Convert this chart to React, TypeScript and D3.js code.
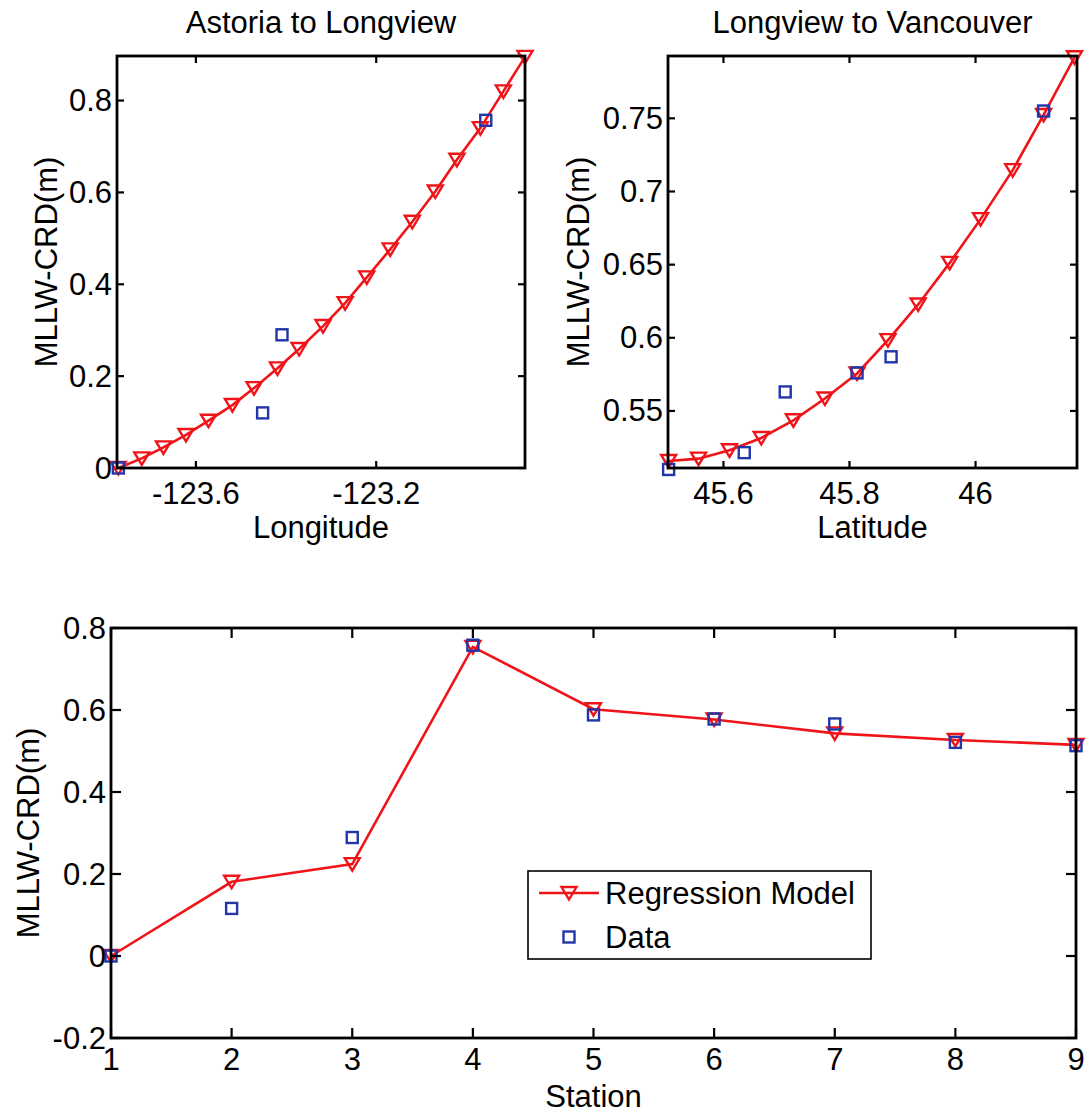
import React from 'react';
import * as d3 from 'd3';

// ---------- Data ----------
// Panel 1: Astoria to Longview (x = longitude)
const lonModelX = [-123.772, -123.72, -123.672, -123.622, -123.572, -123.519, -123.471, -123.419, -123.371, -123.318, -123.269, -123.221, -123.169, -123.12, -123.069, -123.021, -122.969, -122.918, -122.87];
const lonModelY = [0.0, 0.021, 0.045, 0.072, 0.103, 0.137, 0.174, 0.217, 0.259, 0.309, 0.359, 0.415, 0.476, 0.536, 0.602, 0.671, 0.74, 0.82, 0.895];
const lonDataX = [-123.772, -123.452, -123.409, -122.957];
const lonDataY = [0.0, 0.12, 0.29, 0.757];
const lonXDomain = [-123.775, -122.87];
const lonYDomain = [0, 0.897];
const lonXTicks = [-123.6, -123.2];
const lonXTickLabels = ['-123.6', '-123.2'];
const lonYTicks = [0, 0.2, 0.4, 0.6, 0.8];
const lonYTickLabels = ['0', '0.2', '0.4', '0.6', '0.8'];

// Panel 2: Longview to Vancouver (x = latitude)
const latModelX = [45.513, 45.5605, 45.6096, 45.66, 45.711, 45.761, 45.812, 45.861, 45.909, 45.959, 46.008, 46.059, 46.108, 46.157];
const latModelY = [0.5158, 0.5174, 0.5231, 0.5315, 0.5436, 0.5585, 0.5756, 0.5984, 0.6228, 0.6512, 0.6811, 0.7146, 0.7523, 0.7917];
const latDataX = [45.513, 45.633, 45.698, 45.812, 45.866, 46.108];
const latDataY = [0.51, 0.5215, 0.563, 0.576, 0.587, 0.755];
const latXDomain = [45.512, 46.161];
const latYDomain = [0.511, 0.7926];
const latXTicks = [45.6, 45.8, 46];
const latXTickLabels = ['45.6', '45.8', '46'];
const latYTicks = [0.55, 0.6, 0.65, 0.7, 0.75];
const latYTickLabels = ['0.55', '0.6', '0.65', '0.7', '0.75'];

// Panel 3: stations
const stations = [1, 2, 3, 4, 5, 6, 7, 8, 9];
const stationModel = [0.0, 0.181, 0.224, 0.754, 0.602, 0.577, 0.543, 0.527, 0.515];
const stationData = [0.0, 0.116, 0.289, 0.758, 0.588, 0.578, 0.566, 0.521, 0.513];
const stationXDomain = [1, 9];
const stationYDomain = [-0.2, 0.8];
const stationXTickLabels = ['1', '2', '3', '4', '5', '6', '7', '8', '9'];
const stationYTicks = [-0.2, 0, 0.2, 0.4, 0.6, 0.8];
const stationYTickLabels = ['-0.2', '0', '0.2', '0.4', '0.6', '0.8'];

const legendLabels = ['Regression Model', 'Data'];

// ---------- Styles ----------
const FONT = '"Liberation Sans", Arial, Helvetica, sans-serif';
const FS = 31;
const RED = '#f01419';
const BLUE = '#2236a8';

type PanelProps = {
  box: { left: number; right: number; top: number; bottom: number };
  xDomain: number[];
  yDomain: number[];
  xTicks: number[];
  xTickLabels: string[];
  yTicks: number[];
  yTickLabels: string[];
  modelX: number[];
  modelY: number[];
  dataX: number[];
  dataY: number[];
  title?: string;
  xLabel: string;
  yLabel: string;
  yLabelX: number;
  tickLen: number;
  tickBaseline: number;
  labelBaseline: number;
  legend?: boolean;
};

const triPath = 'M-7.5,-6 L7.5,-6 L0,6.5 Z';

function Panel(p: PanelProps) {
  const { box } = p;
  const x = d3.scaleLinear().domain(p.xDomain).range([box.left, box.right]);
  const y = d3.scaleLinear().domain(p.yDomain).range([box.bottom, box.top]);
  const line = d3
    .line<number>()
    .x((_, i) => x(p.modelX[i]))
    .y((d) => y(d));
  const cx = (box.left + box.right) / 2;
  const cy = (box.top + box.bottom) / 2;
  const tl = p.tickLen;

  return (
    <g>
      {/* model line and markers */}
      <path d={line(p.modelY) || ''} fill="none" stroke={RED} strokeWidth={2.6} />
      {p.modelY.map((v, i) => (
        <path
          key={'m' + i}
          d={triPath}
          transform={`translate(${x(p.modelX[i])},${y(v)})`}
          fill="none"
          stroke={RED}
          strokeWidth={2.4}
        />
      ))}
      {/* data markers */}
      {p.dataY.map((v, i) => (
        <rect
          key={'d' + i}
          x={x(p.dataX[i]) - 5.5}
          y={y(v) - 5.5}
          width={11}
          height={11}
          fill="none"
          stroke={BLUE}
          strokeWidth={2.4}
        />
      ))}
      {/* ticks */}
      {p.xTicks.map((t, i) => (
        <g key={'xt' + i}>
          <line x1={x(t)} x2={x(t)} y1={box.bottom} y2={box.bottom - tl} stroke="#000" strokeWidth={2.2} />
          <line x1={x(t)} x2={x(t)} y1={box.top} y2={box.top + tl} stroke="#000" strokeWidth={2.2} />
          <text
            x={x(t)}
            y={p.tickBaseline}
            textAnchor="middle"
            fontFamily={FONT}
            fontSize={FS}
            fill="#000"
          >
            {p.xTickLabels[i]}
          </text>
        </g>
      ))}
      {p.yTicks.map((t, i) => (
        <g key={'yt' + i}>
          <line x1={box.left} x2={box.left + tl} y1={y(t)} y2={y(t)} stroke="#000" strokeWidth={2.2} />
          <line x1={box.right} x2={box.right - tl} y1={y(t)} y2={y(t)} stroke="#000" strokeWidth={2.2} />
          <text
            x={box.left - 5}
            y={y(t)}
            textAnchor="end"
            dominantBaseline="central"
            fontFamily={FONT}
            fontSize={FS}
            fill="#000"
          >
            {p.yTickLabels[i]}
          </text>
        </g>
      ))}
      {/* frame */}
      <rect
        x={box.left}
        y={box.top}
        width={box.right - box.left}
        height={box.bottom - box.top}
        fill="none"
        stroke="#000"
        strokeWidth={2.8}
      />
      {p.title && (
        <text x={cx} y={33} textAnchor="middle" fontFamily={FONT} fontSize={FS} fill="#000">
          {p.title}
        </text>
      )}
      <text x={cx} y={p.labelBaseline} textAnchor="middle" fontFamily={FONT} fontSize={FS} fill="#000">
        {p.xLabel}
      </text>
      <text
        transform={`translate(${p.yLabelX},${cy}) rotate(-90)`}
        textAnchor="middle"
        dominantBaseline="central"
        fontFamily={FONT}
        fontSize={FS}
        fill="#000"
      >
        {p.yLabel}
      </text>
      {p.legend && (
        <g>
          <rect x={528} y={871} width={343} height={88} fill="#fff" stroke="#000" strokeWidth={1.6} />
          <line x1={539} x2={599} y1={893} y2={893} stroke={RED} strokeWidth={2.6} />
          <path d={triPath} transform="translate(569,893)" fill="none" stroke={RED} strokeWidth={2.4} />
          <text x={605} y={893} dominantBaseline="central" fontFamily={FONT} fontSize={FS} fill="#000">
            {legendLabels[0]}
          </text>
          <rect x={563.5} y={931.5} width={11} height={11} fill="none" stroke={BLUE} strokeWidth={2.4} />
          <text x={605} y={937} dominantBaseline="central" fontFamily={FONT} fontSize={FS} fill="#000">
            {legendLabels[1]}
          </text>
        </g>
      )}
    </g>
  );
}

export default function App() {
  return (
    <svg
      width={1086}
      height={1118}
      style={{ position: 'absolute', left: 0, top: 0, background: '#fff' }}
    >
      <rect x={0} y={0} width={1086} height={1118} fill="#fff" />
      <Panel
        box={{ left: 117, right: 525, top: 56, bottom: 468 }}
        xDomain={lonXDomain}
        yDomain={lonYDomain}
        xTicks={lonXTicks}
        xTickLabels={lonXTickLabels}
        yTicks={lonYTicks}
        yTickLabels={lonYTickLabels}
        modelX={lonModelX}
        modelY={lonModelY}
        dataX={lonDataX}
        dataY={lonDataY}
        title="Astoria to Longview"
        xLabel="Longitude"
        yLabel="MLLW-CRD(m)"
        yLabelX={46}
        tickLen={7}
        tickBaseline={504}
        labelBaseline={538}
      />
      <Panel
        box={{ left: 668, right: 1077, top: 56, bottom: 468 }}
        xDomain={latXDomain}
        yDomain={latYDomain}
        xTicks={latXTicks}
        xTickLabels={latXTickLabels}
        yTicks={latYTicks}
        yTickLabels={latYTickLabels}
        modelX={latModelX}
        modelY={latModelY}
        dataX={latDataX}
        dataY={latDataY}
        title="Longview to Vancouver"
        xLabel="Latitude"
        yLabel="MLLW-CRD(m)"
        yLabelX={578}
        tickLen={7}
        tickBaseline={504}
        labelBaseline={538}
      />
      <Panel
        box={{ left: 111, right: 1076, top: 628, bottom: 1038 }}
        xDomain={stationXDomain}
        yDomain={stationYDomain}
        xTicks={stations}
        xTickLabels={stationXTickLabels}
        yTicks={stationYTicks}
        yTickLabels={stationYTickLabels}
        modelX={stations}
        modelY={stationModel}
        dataX={stations}
        dataY={stationData}
        xLabel="Station"
        yLabel="MLLW-CRD(m)"
        yLabelX={28}
        tickLen={10}
        tickBaseline={1070}
        labelBaseline={1107}
        legend
      />
    </svg>
  );
}
